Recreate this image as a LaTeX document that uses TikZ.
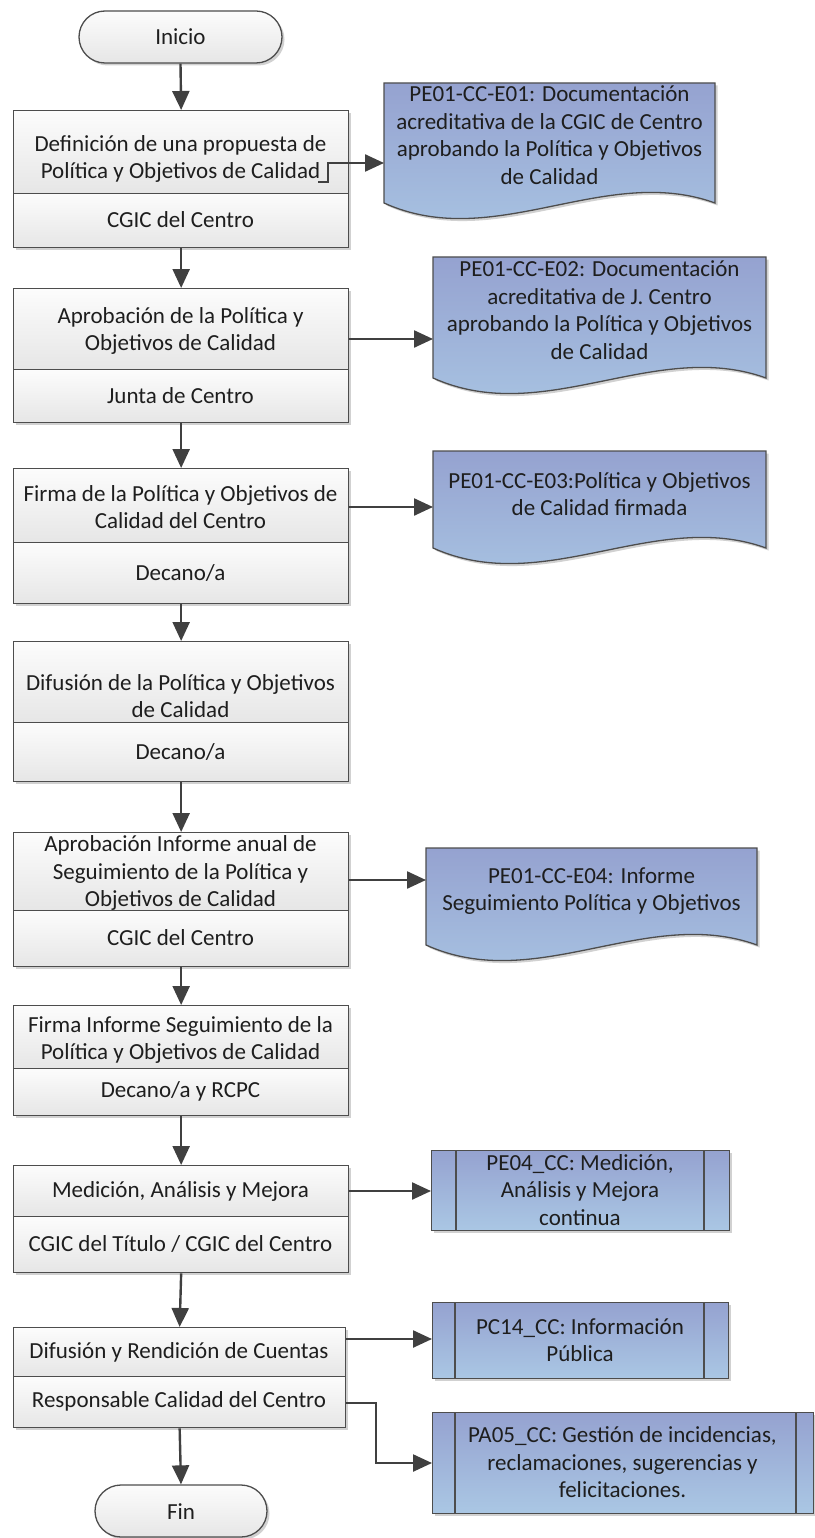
\documentclass[tikz,border=0pt]{standalone}
\usepackage{fontspec}
\setmainfont{Carlito}
\usetikzlibrary{arrows.meta,shadows,calc}
\definecolor{edge}{HTML}{4D4D4D}
\definecolor{arrowc}{HTML}{404040}
\definecolor{txt}{HTML}{1E1E1E}
\definecolor{doctop}{HTML}{95A2D0}
\definecolor{docbot}{HTML}{AAC7E4}
\definecolor{proctop}{HTML}{FCFCFC}
\definecolor{procbot}{HTML}{E6E6E6}
\tikzset{
  shd/.style={drop shadow={shadow xshift=2.5pt,shadow yshift=-2.5pt,fill=black,opacity=0.18}},
  part/.style={draw=edge, line width=1.3pt, top color=proctop, bottom color=procbot, inner sep=0pt, shd},
  term/.style={draw=edge, line width=1.3pt, top color=proctop, bottom color=procbot, inner sep=0pt, shd},
  docpath/.style={draw=edge, line width=1.3pt, top color=doctop, bottom color=docbot, shd},
  subbox/.style={draw=edge, line width=1.3pt, top color=doctop, bottom color=docbot, inner sep=0pt, shd},
  lbl/.style={align=center, inner sep=0pt, text=txt},
  flow/.style={draw=arrowc, line width=2.4pt, -{Triangle[length=19pt,width=17pt]}},
}
\newcommand\procbox[8]{%
  \node[part, minimum width={#5-13}, minimum height={#3-#2}, anchor=north west] (#1u) at (13,#2) {};
  \node[part, minimum width={#5-13}, minimum height={#4-#3}, anchor=north west] (#1l) at (13,#3) {};
  \node[lbl] (#1ut) at ({(13+#5)/2},#8) {#6};
  \node[lbl] (#1lt) at ({(13+#5)/2},{(#3+#4)/2}) {#7};
}
\newcommand\docshape[7]{%
  \path[docpath] (#2,#4) -- (#3,#4) -- (#3,#5) .. controls ({#2+(#3-#2)*2/3},#5-40) and ({#2+(#3-#2)/3},#5+50) .. (#2,#5) -- cycle;
  \node[inner sep=0pt, outer sep=0pt, minimum width={#3-#2}, minimum height={#5-#4}, anchor=north west] (#1) at (#2,#4) {};
  \node[lbl] (#1t) at ({(#2+#3)/2},#7) {#6};
}
\newcommand\subproc[8]{%
  \node[subbox, minimum width={#3-#2}, minimum height={#5-#4}, anchor=north west] (#1) at (#2,#4) {};
  \draw[draw=edge, line width=1.3pt] (#6,#4) -- (#6,#5) (#7,#4) -- (#7,#5);
  \node[lbl] (#1t) at ({(#2+#3)/2},{(#4+#5)/2}) {#8};
}
\begin{document}
\begin{tikzpicture}[x=1pt,y=-1pt,font=\fontsize{23pt}{27.5pt}\selectfont]
\useasboundingbox (0,0) rectangle (814,1538);

% terminators
\node[term, minimum width=203pt, minimum height=52pt, rounded corners=26pt] (start) at (180.5,37) {};
\node[lbl] (startt) at (180.5,37) {Inicio};
\node[term, minimum width=172pt, minimum height=52pt, rounded corners=26pt] (fin) at (181,1511) {};
\node[lbl] (fint) at (181,1512) {Fin};

% process boxes
\procbox{b1}{110}{193}{247}{348}{Definición de una propuesta de\\Política y Objetivos de Calidad}{CGIC del Centro}{159}
\procbox{b2}{288}{369}{422}{348}{Aprobación de la Política y\\Objetivos de Calidad}{Junta de Centro}{331}
\procbox{b3}{468}{542}{603}{348}{Firma de la Política y Objetivos de\\Calidad del Centro}{Decano/a}{507}
\procbox{b4}{641}{722}{781}{348}{Difusión de la Política y Objetivos\\de Calidad}{Decano/a}{696}
\procbox{b5}{832}{910}{966}{348}{Aprobación Informe anual de\\Seguimiento de la Política y\\Objetivos de Calidad}{CGIC del Centro}{873}
\procbox{b6}{1005}{1068}{1115}{348}{Firma Informe Seguimiento de la\\Política y Objetivos de Calidad}{Decano/a y RCPC}{1040}
\procbox{b7}{1165}{1216}{1272}{348}{Medición, Análisis y Mejora}{CGIC del Título / CGIC del Centro}{1191}
\procbox{b8}{1327}{1376}{1427}{345}{Difusión y Rendición de Cuentas}{Responsable Calidad del Centro}{1352}

% documents
\docshape{e1}{384}{715}{83}{203}{PE01-CC-E01: Documentación\\acreditativa de la CGIC de Centro\\aprobando la Política y Objetivos\\de Calidad}{135}
\docshape{e2}{433}{766}{257}{378}{PE01-CC-E02: Documentación\\acreditativa de J. Centro\\aprobando la Política y Objetivos\\de Calidad}{310}
\docshape{e3}{433}{766}{451}{548}{PE01-CC-E03:Política y Objetivos\\de Calidad firmada}{494}
\docshape{e4}{426}{757}{848}{945}{PE01-CC-E04: Informe\\Seguimiento Política y Objetivos}{891}

% subprocesses
\subproc{pe4}{431}{729}{1150}{1230}{456}{704}{PE04\_CC: Medición,\\Análisis y Mejora\\continua}
\subproc{pc14}{432}{728}{1302}{1378}{455}{704}{PC14\_CC: Información\\Pública}
\subproc{pa5}{432}{813}{1412}{1513}{455}{796}{PA05\_CC: Gestión de incidencias,\\reclamaciones, sugerencias y\\felicitaciones.}

% main flow
\draw[flow] (start.south) -- (b1u.north);
\draw[flow] (b1l.south) -- (b2u.north);
\draw[flow] (b2l.south) -- (b3u.north);
\draw[flow] (b3l.south) -- (b4u.north);
\draw[flow] (b4l.south) -- (b5u.north);
\draw[flow] (b5l.south) -- (b6u.north);
\draw[flow] (b6l.south) -- (b7u.north);
\draw[flow] (b7l.south) -- (b8u.north);
\draw[flow] (b8l.south) -- (fin.north);

% side connectors
\coordinate (j1) at (318,182);
\draw[flow] (j1) -- (328,182) |- (e1.west |- 0,163);
\draw[flow] (b2u.east |- 0,339) -- (e2.west |- 0,339);
\draw[flow] (b3u.east |- 0,507) -- (e3.west |- 0,507);
\draw[flow] (b5u.east |- 0,880) -- (e4.west |- 0,880);
\draw[flow] (b7u.east |- 0,1191) -- (pe4.west |- 0,1191);
\draw[flow] (b8u.east |- 0,1339) -- (pc14.west |- 0,1339);
\draw[flow] (b8l.east |- 0,1403) -- (376,1403) |- (pa5.west |- 0,1463);
\end{tikzpicture}
\end{document}
